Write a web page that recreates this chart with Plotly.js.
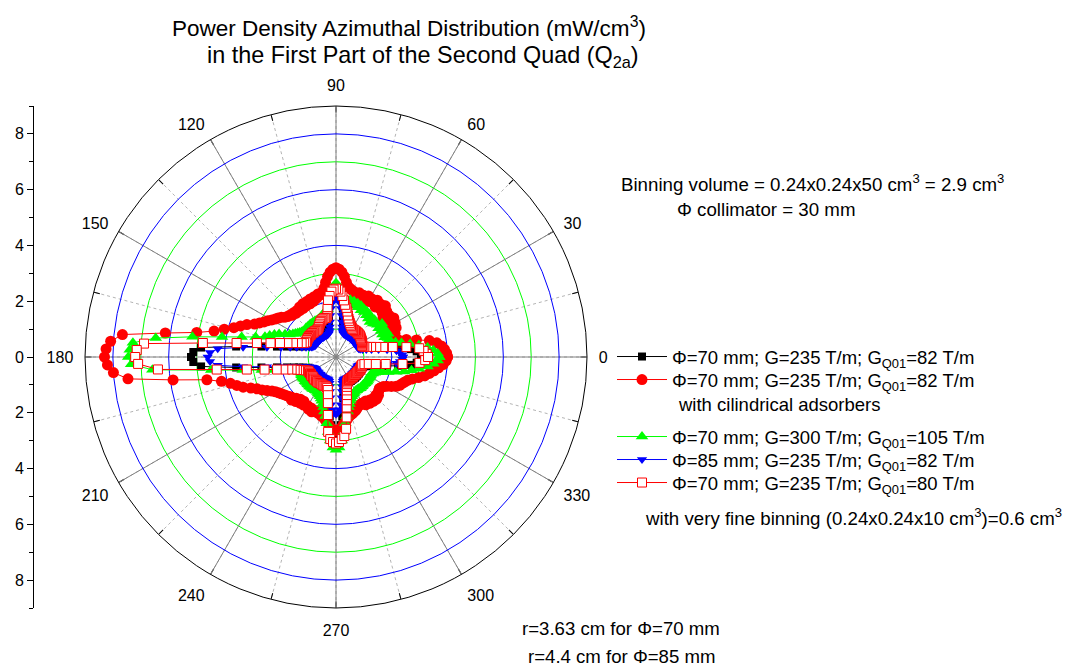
<!DOCTYPE html>
<html><head><meta charset="utf-8">
<script src="https://cdn.plot.ly/plotly-3.0.1.min.js"></script>
<style>html,body{margin:0;padding:0;background:#fff}#chart{width:1072px;height:668px}</style>
</head><body><div id="chart"></div>
<script>
// Azimuth angles (deg)
const thetaDeg = [
0,2,4,6,8,10,12,14,16,18,
20,22,24,26,28,30,32,34,36,38,
40,42,44,46,48,50,52,54,56,58,
60,62,64,66,68,70,72,74,76,78,
80,82,84,86,88,90,92,94,96,98,
100,102,104,106,108,110,112,114,116,118,
120,122,124,126,128,130,132,134,136,138,
140,142,144,146,148,150,152,154,156,158,
160,162,164,166,168,170,172,174,176,178,
180,182,184,186,188,190,192,194,196,198,
200,202,204,206,208,210,212,214,216,218,
220,222,224,226,228,230,232,234,236,238,
240,242,244,246,248,250,252,254,256,258,
260,262,264,266,268,270,272,274,276,278,
280,282,284,286,288,290,292,294,296,298,
300,302,304,306,308,310,312,314,316,318,
320,322,324,326,328,330,332,334,336,338,
340,342,344,346,348,350,352,354,356,358];

// Phi=70 mm; G=235 T/m; GQ01=82 T/m
const pd70 = [
3.10,3.05,2.90,2.70,2.25,1.85,1.55,1.33,1.18,1.08,
1.03,1.01,1.00,0.99,1.00,1.01,0.99,1.00,0.98,1.00,
0.99,1.01,1.00,0.99,1.00,0.98,1.00,0.99,1.01,1.00,
0.99,1.00,1.01,1.00,1.01,1.00,1.01,1.04,1.10,1.25,
1.45,1.75,2.05,2.30,2.45,2.50,2.45,2.30,2.05,1.75,
1.45,1.25,1.10,1.04,1.01,1.00,0.99,1.00,1.01,0.99,
1.00,0.99,1.01,1.00,0.98,1.00,1.01,0.99,1.00,1.01,
0.99,1.00,1.01,1.00,0.99,1.00,1.00,1.01,1.03,1.07,
1.13,1.24,1.37,1.55,1.80,2.15,2.70,3.60,4.85,5.12,
5.20,5.12,4.85,3.60,2.70,2.15,1.80,1.55,1.37,1.24,
1.13,1.07,1.03,1.01,1.00,0.99,1.00,1.01,0.99,1.00,
1.01,1.00,0.99,1.00,0.98,1.00,1.01,0.99,1.00,1.01,
0.99,1.00,1.01,1.00,1.01,1.00,1.02,1.05,1.12,1.28,
1.50,1.80,2.15,2.45,2.65,2.72,2.65,2.45,2.15,1.80,
1.50,1.28,1.12,1.05,1.02,1.00,0.99,1.01,1.00,0.99,
1.00,1.01,0.99,1.00,0.98,1.00,1.01,0.99,1.00,1.01,
1.00,0.99,1.01,1.00,0.99,1.00,1.01,1.00,0.99,1.01,
1.03,1.08,1.18,1.33,1.55,1.85,2.25,2.70,2.90,3.05];

// Phi=70 mm; G=235 T/m; GQ01=82 T/m with cilindrical adsorbers
const pd70Abs = [
4.00,3.97,3.90,3.80,3.65,3.40,2.95,2.60,2.30,2.20,
2.15,2.28,2.18,2.40,2.22,2.45,2.25,2.50,2.30,2.42,
2.20,2.45,2.30,2.55,2.35,2.48,2.28,2.52,2.35,2.45,
2.30,2.48,2.35,2.42,2.30,2.45,2.35,2.42,2.45,2.50,
2.55,2.70,2.90,3.05,3.15,3.20,3.15,3.05,2.90,2.70,
2.50,2.38,2.30,2.35,2.22,2.30,2.15,2.28,2.12,2.25,
2.12,2.25,2.10,2.22,2.11,2.18,2.12,2.20,2.16,2.24,
2.26,2.32,2.42,2.50,2.57,2.66,2.77,2.87,3.00,3.15,
3.40,3.60,3.81,4.13,4.47,5.07,6.18,7.70,8.10,8.25,
8.30,8.20,8.00,7.50,5.90,4.70,4.20,3.90,3.70,3.50,
3.25,3.05,2.90,2.75,2.60,2.50,2.42,2.36,2.30,2.25,
2.20,2.15,2.22,2.05,2.15,1.98,2.10,1.96,2.08,2.04,
2.02,2.12,2.03,2.15,2.10,2.05,2.12,2.12,2.18,2.20,
2.28,2.36,2.45,2.55,2.62,2.65,2.62,2.55,2.45,2.36,
2.28,2.20,2.15,2.12,2.08,2.05,2.00,1.95,1.92,1.90,
1.90,2.02,1.90,2.05,1.96,2.08,2.00,2.10,1.98,2.05,
1.97,1.95,1.92,1.95,2.00,2.10,2.25,2.40,2.50,2.55,
2.62,2.70,2.85,3.05,3.25,3.40,3.55,3.70,3.85,3.95];

// Phi=70 mm; G=300 T/m; GQ01=105 T/m
const pd70G300 = [
3.70,3.65,3.50,3.30,3.00,2.70,2.40,2.20,2.05,2.00,
1.98,1.88,2.05,1.85,2.02,1.86,2.00,1.84,2.04,1.88,
1.86,1.80,1.92,1.75,1.88,1.80,1.95,1.85,1.98,1.90,
2.00,1.90,2.05,1.95,2.08,1.96,2.10,2.02,2.12,2.06,
2.10,2.15,2.25,2.40,2.55,2.65,2.55,2.35,2.10,1.90,
1.75,1.70,1.65,1.62,1.58,1.55,1.52,1.50,1.49,1.48,
1.50,1.47,1.49,1.48,1.50,1.47,1.49,1.48,1.50,1.48,
1.48,1.50,1.53,1.57,1.62,1.68,1.75,1.85,2.00,2.20,
2.35,2.50,2.65,2.97,3.46,4.15,5.20,6.50,7.30,7.40,
7.45,7.35,6.60,4.50,3.38,2.70,2.26,1.94,1.70,1.52,
1.42,1.38,1.36,1.38,1.40,1.39,1.41,1.40,1.38,1.41,
1.40,1.39,1.41,1.40,1.42,1.40,1.41,1.42,1.40,1.41,
1.40,1.42,1.45,1.48,1.52,1.58,1.65,1.75,1.85,2.00,
2.15,2.40,2.70,3.00,3.25,3.33,3.25,3.00,2.70,2.40,
2.15,2.00,1.85,1.75,1.65,1.58,1.52,1.48,1.45,1.42,
1.40,1.41,1.39,1.40,1.42,1.40,1.41,1.39,1.40,1.41,
1.40,1.42,1.41,1.40,1.41,1.42,1.40,1.40,1.45,1.50,
1.60,1.75,1.95,2.20,2.50,2.75,3.00,3.30,3.50,3.65];

// Phi=85 mm; G=235 T/m; GQ01=82 T/m
const pd85 = [
2.40,2.38,2.30,2.18,1.85,1.55,1.30,1.12,0.99,0.91,
0.87,0.86,0.85,0.84,0.85,0.86,0.84,0.85,0.83,0.85,
0.84,0.86,0.85,0.84,0.85,0.83,0.85,0.84,0.86,0.85,
0.84,0.85,0.86,0.85,0.86,0.87,0.87,0.91,0.98,1.10,
1.27,1.50,1.75,1.95,2.05,2.10,2.05,1.95,1.75,1.50,
1.27,1.10,0.98,0.91,0.87,0.86,0.85,0.84,0.85,0.86,
0.84,0.85,0.83,0.85,0.86,0.84,0.85,0.84,0.86,0.85,
0.84,0.85,0.86,0.84,0.85,0.86,0.85,0.88,0.91,0.95,
1.02,1.13,1.27,1.45,1.68,2.00,2.50,3.35,4.25,4.52,
4.60,4.52,4.25,3.35,2.50,2.00,1.68,1.45,1.27,1.13,
1.02,0.95,0.91,0.88,0.86,0.85,0.84,0.85,0.86,0.84,
0.85,0.84,0.86,0.85,0.83,0.85,0.86,0.84,0.85,0.86,
0.85,0.84,0.85,0.86,0.85,0.84,0.87,0.90,0.97,1.09,
1.26,1.48,1.72,1.90,2.00,2.05,2.00,1.90,1.72,1.48,
1.26,1.09,0.97,0.90,0.87,0.85,0.84,0.86,0.85,0.84,
0.85,0.86,0.84,0.85,0.83,0.85,0.86,0.84,0.85,0.84,
0.86,0.85,0.84,0.85,0.86,0.84,0.85,0.86,0.85,0.84,
0.87,0.91,0.99,1.12,1.30,1.55,1.85,2.18,2.30,2.38];

// Phi=70 mm; G=235 T/m; GQ01=80 T/m, very fine binning
const pd70Fine = [
3.30,3.25,3.15,3.00,2.55,2.07,1.73,1.49,1.31,1.17,
1.08,1.03,1.02,1.04,1.06,1.08,1.09,1.10,1.11,1.12,
1.14,1.15,1.16,1.15,1.17,1.16,1.17,1.16,1.17,1.16,
1.17,1.20,1.23,1.27,1.32,1.38,1.45,1.55,1.68,1.80,
1.90,2.05,2.20,2.35,2.42,2.45,2.42,2.35,2.20,2.05,
1.75,1.50,1.45,1.45,1.45,1.43,1.40,1.38,1.33,1.28,
1.24,1.20,1.19,1.18,1.19,1.20,1.19,1.20,1.21,1.20,
1.21,1.22,1.21,1.22,1.20,1.21,1.18,1.20,1.25,1.33,
1.46,1.62,1.81,2.07,2.40,2.88,3.60,4.80,6.90,7.15,
7.20,7.10,6.40,4.30,3.23,2.60,2.16,1.86,1.63,1.46,
1.35,1.25,1.18,1.12,1.10,1.11,1.10,1.09,1.10,1.11,
1.09,1.10,1.11,1.12,1.10,1.11,1.10,1.12,1.11,1.10,
1.10,1.11,1.10,1.12,1.11,1.10,1.12,1.15,1.22,1.40,
1.68,2.10,2.70,2.95,3.05,3.10,3.05,2.95,2.85,2.60,
2.20,1.85,1.60,1.42,1.26,1.14,1.05,1.00,0.95,0.94,
0.93,0.94,0.93,0.92,0.93,0.94,0.93,0.92,0.93,0.94,
0.93,0.94,0.95,0.94,0.96,0.97,0.98,0.97,0.98,0.99,
0.96,0.97,0.98,1.05,1.20,1.45,1.80,2.40,3.00,3.20];

const angTicks = [0,30,60,90,120,150,180,210,240,270,300,330];
const minorAng = [0,15,30,45,60,75,90,105,120,135,150,165,180,195,210,225,240,255,270,285,300,315,330,345];
const oddRings = [1,3,5,7];
const evenRings = [2,4,6,8];
const leftTickVals = [-8,-6,-4,-2,0,2,4,6,8];
const leftTickText = ['8','6','4','2','0','2','4','6','8'];

const names = [
  'Φ=70 mm; G=235 T/m; G<sub>Q01</sub>=82 T/m',
  'Φ=70 mm; G=235 T/m; G<sub>Q01</sub>=82 T/m',
  'Φ=70 mm; G=300 T/m; G<sub>Q01</sub>=105 T/m',
  'Φ=85 mm; G=235 T/m; G<sub>Q01</sub>=82 T/m',
  'Φ=70 mm; G=235 T/m; G<sub>Q01</sub>=80 T/m'
];

const closeLoop = a => a.concat([a[0]]);
const th = closeLoop(thetaDeg);
const FONT = 'Liberation Sans, Arial, sans-serif';
const W = 1072, H = 668;
const px = x => x / W, py = y => 1 - y / H;

const traces = [
  {type:'scatter', x:[], y:[], xaxis:'x', yaxis:'y', showlegend:false, hoverinfo:'skip'},
  {type:'scatterpolar', subplot:'polar', r:[], theta:[], mode:'lines', showlegend:false, hoverinfo:'skip'},
  {type:'scatterpolar', subplot:'polar2', r:closeLoop(pd70), theta:th, mode:'lines+markers', name:names[0], legend:'legend',
   line:{color:'#000000', width:1}, marker:{symbol:'square', size:8, color:'#000000'}},
  {type:'scatterpolar', subplot:'polar2', r:closeLoop(pd70Abs), theta:th, mode:'lines+markers', name:names[1], legend:'legend2',
   line:{color:'#ff0000', width:1}, marker:{symbol:'circle', size:11, color:'#ff0000'}},
  {type:'scatterpolar', subplot:'polar2', r:closeLoop(pd70G300), theta:th, mode:'lines+markers', name:names[2], legend:'legend3',
   line:{color:'#00ff00', width:1}, marker:{symbol:'triangle-up', size:11, color:'#00ff00'}},
  {type:'scatterpolar', subplot:'polar2', r:closeLoop(pd85), theta:th, mode:'lines+markers', name:names[3], legend:'legend4',
   line:{color:'#0000ff', width:1}, marker:{symbol:'triangle-down', size:9, color:'#0000ff'}},
  {type:'scatterpolar', subplot:'polar2', r:closeLoop(pd70Fine), theta:th, mode:'lines+markers', name:names[4], legend:'legend5',
   line:{color:'#ff0000', width:1}, marker:{symbol:'square', size:9, color:'#ffffff', line:{color:'#ff0000', width:1}}}
];

const polarDomain = {x:[px(85), px(587)], y:[py(608), py(106)]};

function legendAt(yc) {
  return {x:px(612), y:py(yc), xanchor:'left', yanchor:'middle', bgcolor:'rgba(0,0,0,0)', borderwidth:0,
    font:{family:FONT, size:18.5, color:'#000000'}, itemwidth:50, tracegroupgap:0};
}
function note(text, x, y, size) {
  return {text:text, x:px(x), y:py(y), xref:'paper', yref:'paper', xanchor:'left', yanchor:'middle',
    showarrow:false, font:{size:size, family:FONT, color:'#000000'}};
}

const layout = {
  width:W, height:H,
  margin:{l:0, r:0, t:0, b:0},
  paper_bgcolor:'#ffffff', plot_bgcolor:'#ffffff',
  font:{family:FONT, size:16, color:'#000000'},
  showlegend:true,
  polar:{
    domain:polarDomain, bgcolor:'#ffffff',
    angularaxis:{rotation:0, direction:'counterclockwise', tickvals:minorAng, showticklabels:false,
      ticks:'inside', ticklen:6, tickcolor:'#000000', showline:false,
      showgrid:true, gridcolor:'#b4b4b4', griddash:'dot', gridwidth:1},
    radialaxis:{range:[0,9], tickvals:oddRings, showticklabels:false, ticks:'', showline:false,
      showgrid:true, gridcolor:'#00ff00', gridwidth:1}
  },
  polar2:{
    domain:polarDomain, bgcolor:'rgba(0,0,0,0)',
    angularaxis:{rotation:0, direction:'counterclockwise', tickvals:angTicks,
      ticks:'outside', ticklen:8, tickcolor:'rgba(0,0,0,0)',
      tickfont:{size:16, family:FONT, color:'#000000'},
      showline:true, linecolor:'#000000', linewidth:1,
      showgrid:true, gridcolor:'#808080', gridwidth:1},
    radialaxis:{range:[0,9], tickvals:evenRings, showticklabels:false, ticks:'', showline:false,
      showgrid:true, gridcolor:'#0000ff', gridwidth:1}
  },
  xaxis:{domain:[px(34), px(40)], visible:false, range:[0,1], fixedrange:true},
  yaxis:{domain:[py(608), py(106)], anchor:'x', range:[-9,9], tickvals:leftTickVals, ticktext:leftTickText,
    showline:true, linecolor:'#000000', linewidth:1, ticks:'outside', ticklen:6, tickcolor:'#000000',
    showgrid:false, zeroline:false, tickfont:{size:16, family:FONT},
    minor:{dtick:1, ticks:'outside', ticklen:4, tickcolor:'#000000', showgrid:false}},
  legend:legendAt(357),
  legend2:legendAt(380),
  legend3:legendAt(437),
  legend4:legendAt(460),
  legend5:legendAt(483),
  annotations:[
    note('Power Density Azimuthal Distribution (mW/cm<sup>3</sup>)', 170, 27, 22.5),
    note('in the First Part of the Second Quad (Q<sub>2a</sub>)', 205, 57, 23.4),
    note('Binning volume = 0.24x0.24x50 cm<sup>3</sup> = 2.9 cm<sup>3</sup>', 619, 183, 18.7),
    note('Φ collimator = 30 mm', 675, 209, 18.7),
    note('with cilindrical adsorbers', 676, 404, 18.5),
    note('with very fine binning (0.24x0.24x10 cm<sup>3</sup>)=0.6 cm<sup>3</sup>', 643, 517, 18.7),
    note('r=3.63 cm for Φ=70 mm', 520, 628, 18.6),
    note('r=4.4 cm for Φ=85 mm', 526, 656, 18.6)
  ]
};

Plotly.newPlot('chart', traces, layout, {displayModeBar:false, staticPlot:true});
</script>
</body></html>
